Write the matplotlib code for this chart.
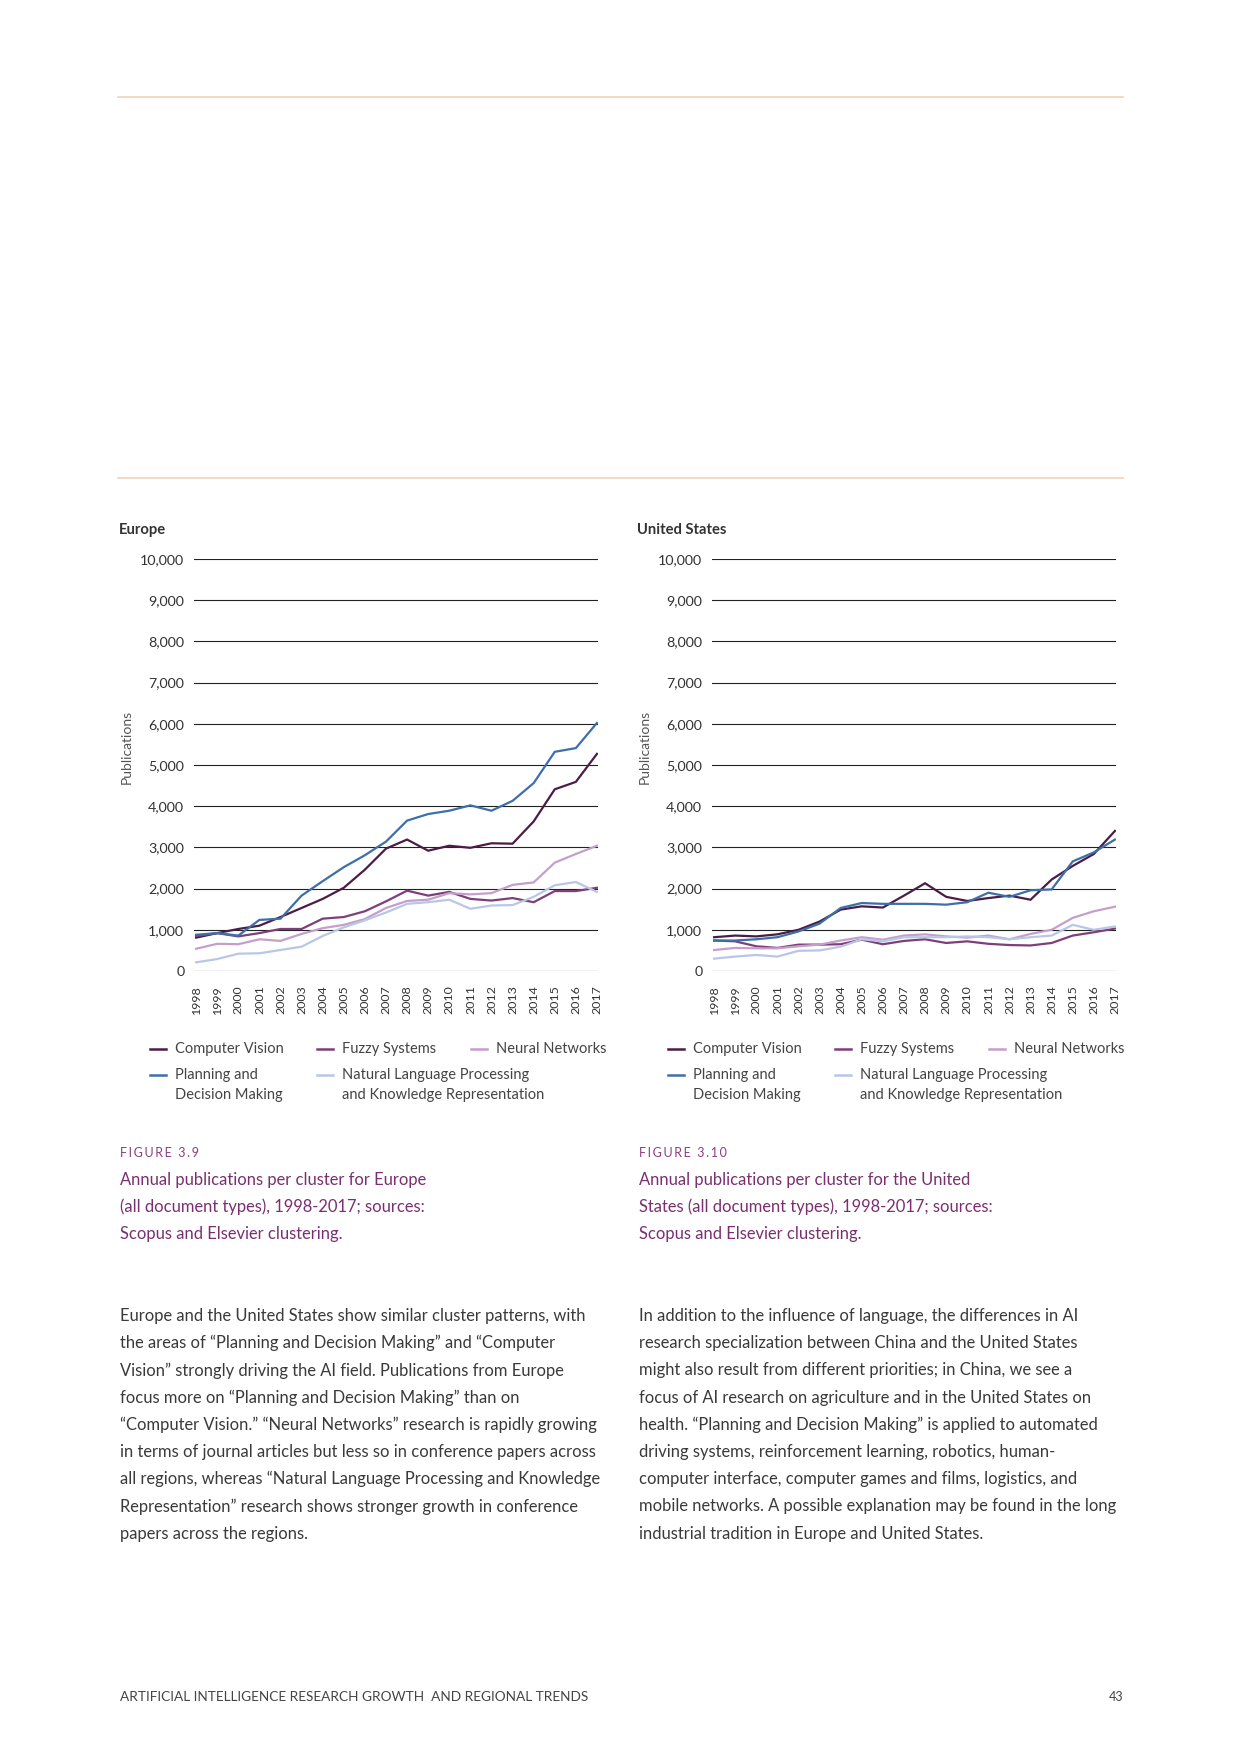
import matplotlib
matplotlib.use('Agg')
import matplotlib.pyplot as plt
from matplotlib.lines import Line2D

plt.rcParams['font.family'] = ['Lato', 'DejaVu Sans']

W, H = 1240, 1754

years = list(range(1998, 2018))
series_names = ['Computer Vision', 'Fuzzy Systems', 'Neural Networks',
                'Planning and\nDecision Making',
                'Natural Language Processing\nand Knowledge Representation']
series_colors = ['#4b1d45', '#7e3f78', '#c59fcb', '#3d6fa9', '#b8c7e7']

# Europe
eu_cv = [810, 920, 1020, 1100, 1310, 1530, 1750, 2020, 2460, 2970, 3190, 2920, 3040, 2990, 3100, 3090, 3630, 4410, 4590, 5270]
eu_fuzzy = [850, 920, 840, 920, 1020, 1020, 1270, 1310, 1450, 1690, 1950, 1830, 1920, 1750, 1710, 1770, 1670, 1940, 1940, 2020]
eu_nn = [540, 660, 650, 770, 730, 900, 1040, 1120, 1260, 1530, 1700, 1730, 1890, 1860, 1890, 2090, 2150, 2630, 2840, 3040]
eu_plan = [880, 920, 860, 1240, 1270, 1830, 2180, 2520, 2810, 3140, 3650, 3810, 3890, 4020, 3890, 4130, 4560, 5320, 5410, 6020]
eu_nlp = [210, 290, 420, 430, 510, 590, 850, 1060, 1230, 1420, 1630, 1670, 1730, 1510, 1590, 1600, 1800, 2080, 2160, 1920]

# United States
us_cv = [820, 860, 840, 890, 1000, 1200, 1490, 1570, 1540, 1830, 2130, 1800, 1700, 1770, 1830, 1730, 2220, 2550, 2840, 3400]
us_fuzzy = [740, 720, 600, 560, 640, 640, 650, 760, 650, 730, 770, 680, 720, 660, 630, 620, 680, 860, 940, 1030]
us_nn = [510, 560, 550, 550, 600, 640, 740, 820, 760, 860, 890, 840, 810, 860, 770, 900, 1000, 1290, 1450, 1560]
us_plan = [740, 740, 770, 820, 960, 1150, 1530, 1650, 1630, 1630, 1630, 1610, 1670, 1900, 1800, 1960, 1980, 2660, 2880, 3190]
us_nlp = [300, 350, 390, 350, 490, 500, 590, 770, 720, 820, 820, 820, 840, 820, 770, 820, 860, 1120, 1000, 1080]

yticks = list(range(0, 10001, 1000))

captions = [
    ['Annual publications per cluster for Europe',
     '(all document types), 1998-2017; sources:',
     'Scopus and Elsevier clustering.'],
    ['Annual publications per cluster for the United',
     'States (all document types), 1998-2017; sources:',
     'Scopus and Elsevier clustering.'],
]

body_left = [
    'Europe and the United States show similar cluster patterns, with',
    'the areas of \u201cPlanning and Decision Making\u201d and \u201cComputer',
    'Vision\u201d strongly driving the AI field. Publications from Europe',
    'focus more on \u201cPlanning and Decision Making\u201d than on',
    '\u201cComputer Vision.\u201d \u201cNeural Networks\u201d research is rapidly growing',
    'in terms of journal articles but less so in conference papers across',
    'all regions, whereas \u201cNatural Language Processing and Knowledge',
    'Representation\u201d research shows stronger growth in conference',
    'papers across the regions.',
]
body_right = [
    'In addition to the influence of language, the differences in AI',
    'research specialization between China and the United States',
    'might also result from different priorities; in China, we see a',
    'focus of AI research on agriculture and in the United States on',
    'health. \u201cPlanning and Decision Making\u201d is applied to automated',
    'driving systems, reinforcement learning, robotics, human-',
    'computer interface, computer games and films, logistics, and',
    'mobile networks. A possible explanation may be found in the long',
    'industrial tradition in Europe and United States.',
]


def fx(px):
    return px / W


def fy(py):
    return 1 - py / H


def spaced(s):
    # small-caps style tracking
    return '\u2009'.join(s)


fig = plt.figure(figsize=(W / 100, H / 100), dpi=100)
fig.patch.set_facecolor('white')

# decorative rules
for yy in (97, 478):
    fig.add_artist(Line2D([fx(118), fx(1123)], [fy(yy), fy(yy)], color='#f1d7bd', lw=1.3))

charts = [
    ('Europe', 'FIGURE 3.9', 0, [eu_cv, eu_fuzzy, eu_nn, eu_plan, eu_nlp]),
    ('United States', 'FIGURE 3.10', 518, [us_cv, us_fuzzy, us_nn, us_plan, us_nlp]),
]

# legend layout (px): column text x, row y
leg_cols = [175, 342, 496, 175, 342]
leg_rows = [1049, 1049, 1049, 1075, 1075]

for ci, (title, figlabel, off, data) in enumerate(charts):
    ax = fig.add_axes([fx(194 + off), fy(971), fx(404), (971 - 559) / H])
    for vals, name, col in zip(data, series_names, series_colors):
        ax.plot(years, vals, color=col, lw=1.6, solid_joinstyle='miter')
    ax.set_xlim(1997.9, 2017.05)
    ax.set_ylim(0, 10000)
    ax.set_yticks(yticks)
    ax.set_yticklabels([f'{v:,}' for v in yticks], fontsize=10.3, color='#333333')
    ax.set_xticks(years)
    ax.set_xticklabels([str(y) for y in years], rotation=90, fontsize=8.9, color='#333333')
    ax.tick_params(axis='both', length=0)
    ax.tick_params(axis='y', pad=7)
    ax.tick_params(axis='x', pad=10)
    ax.grid(axis='y', color='#222222', lw=0.8)
    ax.set_axisbelow(True)
    for sp in ax.spines.values():
        sp.set_visible(False)
    ax.text(-0.166, 0.543, 'Publications', transform=ax.transAxes, rotation=90,
            ha='center', va='center', fontsize=10, color='#555555')

    fig.text(fx(119 + off), fy(530), title, fontsize=10.6, fontweight='bold',
             color='#333333', ha='left', va='center')

    # legend
    for name, col, lx, ly in zip(series_names, series_colors, leg_cols, leg_rows):
        x0 = lx + off
        fig.add_artist(Line2D([fx(x0 - 25), fx(x0 - 9)], [fy(ly), fy(ly)], color=col, lw=1.8))
        for k, part in enumerate(name.split('\n')):
            fig.text(fx(x0), fy(ly + 19.5 * k), part, fontsize=10.5, color='#444444',
                     ha='left', va='center')

    # caption
    cx = 120 + off + (1 if ci else 0)
    fig.text(fx(cx), fy(1153), spaced(figlabel), fontsize=9, color='#8b3f7f',
             ha='left', va='center')
    for k, line in enumerate(captions[ci]):
        fig.text(fx(cx), fy(1180 + 27.2 * k), line, fontsize=11.9, color='#7a3070',
                 ha='left', va='center')

for k, line in enumerate(body_left):
    fig.text(fx(120), fy(1316 + 27.2 * k), line, fontsize=11.9, color='#3a3a3a',
             ha='left', va='center')
for k, line in enumerate(body_right):
    fig.text(fx(639), fy(1316 + 27.2 * k), line, fontsize=11.9, color='#3a3a3a',
             ha='left', va='center')

fig.text(fx(120), fy(1697), 'ARTIFICIAL INTELLIGENCE RESEARCH GROWTH  AND REGIONAL TRENDS',
         fontsize=9.85, color='#444444', ha='left', va='center')
fig.text(fx(1123), fy(1697), '43', fontsize=9, color='#444444', ha='right', va='center')

fig.savefig('out.png', dpi=100, facecolor='white')
